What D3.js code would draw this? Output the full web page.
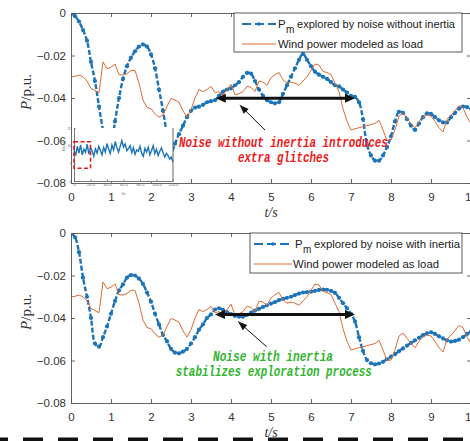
<!DOCTYPE html>
<html>
<head>
<meta charset="utf-8">
<script src="https://cdn.jsdelivr.net/npm/d3@7"></script>
<style>
  body { margin: 0; background: #fff; }
  text { font-family: Arial, "Liberation Sans", sans-serif; }
</style>
</head>
<body>
<div id="vis"></div>
<script>
// sample step of the time series (s)
const step = 0.1;

// P_m explored by noise without inertia (top panel)
const pmNoInertia = [0, -0.0015, -0.004, -0.008, -0.013, -0.023, -0.032, -0.044, -0.055, -0.063,
  -0.062, -0.051, -0.040, -0.031, -0.025, -0.021, -0.018, -0.0158, -0.0148, -0.0158,
  -0.0195, -0.026, -0.036, -0.046, -0.057, -0.066, -0.0615, -0.057, -0.053, -0.049,
  -0.046, -0.0445, -0.0441, -0.0432, -0.042, -0.0415, -0.041, -0.039, -0.037, -0.036,
  -0.0355, -0.034, -0.0325, -0.030, -0.0282, -0.0285, -0.032, -0.036, -0.039, -0.041,
  -0.042, -0.0425, -0.042, -0.038, -0.034, -0.030, -0.026, -0.022, -0.0192, -0.022,
  -0.025, -0.0276, -0.029, -0.030, -0.031, -0.0325, -0.034, -0.0345, -0.036, -0.0375,
  -0.039, -0.0395, -0.042, -0.050, -0.062, -0.067, -0.0695, -0.0695, -0.067, -0.063,
  -0.058, -0.051, -0.0465, -0.047, -0.050, -0.053, -0.055, -0.052, -0.049, -0.0472,
  -0.0475, -0.049, -0.0505, -0.0515, -0.0515, -0.049, -0.047, -0.045, -0.044, -0.0443, -0.045];

// P_m explored by noise with inertia (bottom panel)
const pmInertia = [0, -0.002, -0.009, -0.021, -0.030, -0.040, -0.052, -0.0535, -0.049, -0.044,
  -0.038, -0.032, -0.027, -0.0242, -0.021, -0.0198, -0.020, -0.0215, -0.024, -0.028,
  -0.0323, -0.038, -0.043, -0.048, -0.051, -0.0545, -0.0563, -0.0566, -0.0558, -0.0545,
  -0.052, -0.049, -0.0455, -0.043, -0.040, -0.0383, -0.036, -0.0354, -0.0362, -0.0372,
  -0.0382, -0.039, -0.0394, -0.0394, -0.0385, -0.0375, -0.0365, -0.0357, -0.0348, -0.034,
  -0.0332, -0.0325, -0.0316, -0.031, -0.0305, -0.030, -0.0292, -0.0285, -0.028, -0.0278,
  -0.0276, -0.0272, -0.0268, -0.0266, -0.0267, -0.0272, -0.0282, -0.0305, -0.033, -0.0355,
  -0.038, -0.0417, -0.049, -0.0555, -0.0598, -0.0613, -0.0618, -0.0614, -0.0606, -0.0594,
  -0.0582, -0.057, -0.0556, -0.0543, -0.053, -0.0517, -0.0505, -0.0493, -0.048, -0.0472,
  -0.0467, -0.0475, -0.0486, -0.0496, -0.0505, -0.0511, -0.0508, -0.0502, -0.049, -0.0475, -0.0464];

// wind power modeled as load (both panels)
const windLoad = [-0.030, -0.0298, -0.0292, -0.030, -0.032, -0.0355, -0.0365, -0.0375, -0.023, -0.0262,
  -0.0255, -0.024, -0.029, -0.0292, -0.0285, -0.027, -0.027, -0.033, -0.041, -0.0445,
  -0.045, -0.0475, -0.049, -0.048, -0.044, -0.0402, -0.041, -0.042, -0.046, -0.049,
  -0.0455, -0.040, -0.036, -0.037, -0.036, -0.0345, -0.0375, -0.037, -0.0385, -0.036,
  -0.0335, -0.0385, -0.038, -0.037, -0.0345, -0.035, -0.037, -0.032, -0.0325, -0.034,
  -0.0305, -0.029, -0.028, -0.0315, -0.033, -0.0325, -0.033, -0.034, -0.032, -0.030,
  -0.027, -0.024, -0.0245, -0.0275, -0.028, -0.029, -0.033, -0.037, -0.045, -0.051,
  -0.055, -0.0545, -0.054, -0.0535, -0.053, -0.0525, -0.052, -0.0505, -0.055, -0.060,
  -0.0598, -0.055, -0.0485, -0.047, -0.0495, -0.052, -0.054, -0.051, -0.049, -0.048,
  -0.0485, -0.051, -0.054, -0.056, -0.050, -0.048, -0.046, -0.0435, -0.0445, -0.049, -0.052];

// inset: raw exploration noise, one value every 2 units
const noiseStep = 2;
const noiseInset = [8.8, 7.2, 9.8, 7.9, 10.2, 7.4, 9.0, 8.1, 10.4, 7.6, 9.4, 8.5, 7.0, 9.1, 7.9, 9.8,
  8.6, 7.4, 9.5, 8.2, 10.6, 9.0, 7.8, 10.2, 8.8, 11.2, 9.4, 8.2, 9.8, 11.4, 9.6, 10.5, 8.6, 9.2,
  10.0, 8.0, 9.4, 7.6, 8.8, 8.4, 9.8, 7.8, 7.0, 9.2, 8.2, 9.6, 7.4, 8.6, 10.0, 7.8, 9.0, 7.2,
  8.4, 9.4, 8.0, 6.8, 7.8, 7.2, 6.2, 6.8, 5.4];

const xTicks = [0, 1, 2, 3, 4, 5, 6, 7, 8, 9, 10];
const yTicks = [0, -0.02, -0.04, -0.06, -0.08];
const insetXTicks = [0, 20, 40, 60, 80, 100, 120];
const insetYTicks = [0, 5, 10, 15];

const blue = '#1b74ba', orange = '#e06a35', axisColor = '#555';

let svg = d3.select('#vis')
  .append('svg')
  .attr('width', 470)
  .attr('height', 441)
  .style('background-color', '#fff');

let x = d3.scaleLinear().domain([0, 10]).range([71, 471]);

let panels = [
  { top: 13, bottom: 183, pm: pmNoInertia, id: 'a',
    legend: { x: 234, y: 13, w: 228, h: 39, sx: 242, ex: 276, tx: 278, label: 'explored by noise without inertia', len1: 158, len2: 145 },
    arrow: [3.62, 7.1, -0.0401], pointer: [[4.85, -0.0551], [4.22, -0.0433]],
    note: ['Noise without inertia introduces', 'extra glitches'], noteColor: '#f01818',
    noteAt: [[5.31, -0.0631, 209], [5.31, -0.0701, 91]] },
  { top: 233, bottom: 403, pm: pmInertia, id: 'b',
    legend: { x: 250, y: 233, w: 212, h: 40, sx: 254, ex: 292, tx: 295, label: 'explored by noise with inertia', len1: 146, len2: 146 },
    arrow: [3.6, 7.1, -0.0383], pointer: [[4.89, -0.0535], [4.18, -0.0417]],
    note: ['Noise with inertia', 'stabilizes exploration process'], noteColor: '#2fb52f',
    noteAt: [[5.05, -0.0602, 120], [5.07, -0.0673, 196]] }
];

// simple filled triangle head pointing from (x0,y0) to tip (x1,y1)
function head(g, x0, y0, x1, y1, len, half) {
  let a = Math.atan2(y1 - y0, x1 - x0);
  let bx = x1 - len * Math.cos(a), by = y1 - len * Math.sin(a);
  let px = -Math.sin(a) * half, py = Math.cos(a) * half;
  g.append('path')
    .attr('d', `M${x1},${y1}L${bx + px},${by + py}L${bx - px},${by - py}Z`)
    .attr('fill', '#111');
}

panels.forEach(p => {
  let y = d3.scaleLinear().domain([-0.08, 0]).range([p.bottom, p.top]);
  let g = svg.append('g');

  g.append('clipPath').attr('id', 'clip-' + p.id)
    .append('rect').attr('x', 71).attr('y', p.top).attr('width', 400).attr('height', p.bottom - p.top);

  let plot = g.append('g').attr('clip-path', `url(#clip-${p.id})`);
  let line = d3.line().x((d, i) => x(i * step)).y(d => y(d));

  // blue: dashed line with point markers
  plot.append('path')
    .datum(p.pm)
    .attr('d', line.curve(d3.curveCatmullRom))
    .attr('fill', 'none')
    .attr('stroke', blue)
    .attr('stroke-width', 2.4)
    .attr('stroke-dasharray', '5,2');
  plot.selectAll('circle.pm')
    .data(p.pm)
    .join('circle')
    .attr('class', 'pm')
    .attr('cx', (d, i) => x(i * step))
    .attr('cy', d => y(d))
    .attr('r', 2.1)
    .attr('fill', blue);

  // orange wind power
  plot.append('path')
    .datum(windLoad)
    .attr('d', d3.line().x((d, i) => x(i * step)).y(d => y(d)))
    .attr('fill', 'none')
    .attr('stroke', orange)
    .attr('stroke-width', 1);

  // axes (ticks inside, box)
  let fmt = d => d === 0 ? '0' : d3.format('.2f')(d);
  g.append('g').attr('transform', `translate(0,${p.bottom})`)
    .call(d3.axisBottom(x).tickValues(xTicks).tickSize(-4).tickSizeOuter(0).tickPadding(10).tickFormat(d3.format('d')));
  g.append('g').attr('transform', `translate(0,${p.top})`)
    .call(d3.axisTop(x).tickValues(xTicks).tickSize(-4).tickSizeOuter(0).tickFormat(''));
  g.append('g').attr('transform', 'translate(71,0)')
    .call(d3.axisLeft(y).tickValues(yTicks).tickSize(-4).tickSizeOuter(0).tickPadding(5).tickFormat(fmt));
  g.append('g').attr('transform', 'translate(471,0)')
    .call(d3.axisRight(y).tickValues(yTicks).tickSize(-4).tickSizeOuter(0).tickFormat(''));
  g.selectAll('.domain, .tick line').attr('stroke', axisColor).attr('stroke-width', 0.9);
  g.selectAll('.tick text').attr('fill', '#333').attr('font-size', 11.5)
    .attr('font-family', 'Arial, "Liberation Sans", sans-serif');

  // axis titles
  let yl = g.append('text')
    .attr('transform', `translate(31,${(p.top + p.bottom) / 2 - 6}) rotate(-90)`)
    .attr('text-anchor', 'middle')
    .style('font-family', '"Liberation Serif", serif')
    .attr('font-size', 15)
    .attr('fill', '#333');
  yl.append('tspan').attr('font-style', 'italic').text('P');
  yl.append('tspan').text('/p.u.');
  g.append('text')
    .attr('x', x(5)).attr('y', p.bottom + 34)
    .attr('text-anchor', 'middle')
    .style('font-family', '"Liberation Serif", serif')
    .attr('font-style', 'italic')
    .attr('font-size', 14)
    .attr('fill', '#333')
    .text('t/s');

  p.y = y;
});

// inset of the raw noise in the top panel
let xIn = d3.scaleLinear().domain([0, 120]).range([74, 173]);
let yIn = d3.scaleLinear().domain([0, 15]).range([181, 128]);
let inset = svg.append('g');
inset.append('rect').attr('x', 72).attr('y', 128).attr('width', 101).attr('height', 54).attr('fill', '#fff');
inset.append('path')
  .datum(noiseInset)
  .attr('d', d3.line().x((d, i) => xIn(i * noiseStep)).y(d => yIn(d)))
  .attr('fill', 'none').attr('stroke', blue).attr('stroke-width', 1.4);
inset.append('g').attr('transform', 'translate(0,181)')
  .call(d3.axisBottom(xIn).tickValues(insetXTicks).tickSize(-1.5).tickSizeOuter(0).tickPadding(2)
    .tickFormat(d => d === 0 ? '0' : d3.format('.1f')(d)));
inset.append('g').attr('transform', 'translate(74,0)')
  .call(d3.axisLeft(yIn).tickValues(insetYTicks).tickSize(-1.5).tickSizeOuter(0).tickPadding(2));
inset.append('line').attr('x1', 173).attr('x2', 173).attr('y1', 128).attr('y2', 181)
  .attr('stroke', axisColor).attr('stroke-width', 0.9);
inset.selectAll('.domain, .tick line').attr('stroke', axisColor).attr('stroke-width', 0.8);
inset.selectAll('.tick text').attr('font-size', 4).attr('fill', '#666');
inset.append('text').attr('x', xIn(60)).attr('y', 195).attr('text-anchor', 'middle')
  .attr('font-size', 4).attr('fill', '#666').text('t/s');
inset.append('text').attr('transform', 'translate(65,146) rotate(-90)').attr('text-anchor', 'middle')
  .attr('font-size', 4).attr('fill', '#666').text('Noise');
inset.append('rect')
  .attr('x', xIn(0)).attr('y', yIn(11.1))
  .attr('width', xIn(20) - xIn(0)).attr('height', yIn(3.6) - yIn(11.1))
  .attr('fill', 'none').attr('stroke', '#e8141c').attr('stroke-width', 1.6).attr('stroke-dasharray', '4,2.5');

// annotations + legends
panels.forEach(p => {
  let y = p.y, g = svg.append('g');

  // double-headed arrow
  let [a0, a1, av] = p.arrow;
  g.append('line')
    .attr('x1', x(a0) + 8).attr('x2', x(a1) - 8)
    .attr('y1', y(av)).attr('y2', y(av))
    .attr('stroke', '#111').attr('stroke-width', 3);
  head(g, x(a1) - 10, y(av), x(a1), y(av), 10, 4.5);
  head(g, x(a0) + 10, y(av), x(a0), y(av), 10, 4.5);

  // thin pointer
  let [[s0, v0], [s1, v1]] = p.pointer;
  g.append('line')
    .attr('x1', x(s0)).attr('y1', y(v0)).attr('x2', x(s1)).attr('y2', y(v1))
    .attr('stroke', '#111').attr('stroke-width', 1);
  head(g, x(s0), y(v0), x(s1), y(v1), 9, 3.5);

  // note text
  p.note.forEach((t, i) => {
    let [nt, nv, len] = p.noteAt[i];
    g.append('text')
      .attr('x', x(nt)).attr('y', y(nv))
      .attr('text-anchor', 'middle')
      .style('font-family', '"Liberation Mono", "DejaVu Sans Mono", monospace')
      .attr('font-weight', 'bold').attr('font-style', 'italic')
      .attr('font-size', 14)
      .attr('textLength', len).attr('lengthAdjust', 'spacingAndGlyphs')
      .attr('fill', p.noteColor)
      .text(t);
  });

  // legend
  let L = p.legend;
  let lg = svg.append('g');
  lg.append('rect').attr('x', L.x).attr('y', L.y).attr('width', L.w).attr('height', L.h)
    .attr('fill', '#fff').attr('stroke', '#333').attr('stroke-width', 0.8);
  let r1 = L.y + 11, r2 = L.y + 31;
  lg.append('line').attr('x1', L.sx).attr('x2', L.ex).attr('y1', r1).attr('y2', r1)
    .attr('stroke', blue).attr('stroke-width', 2.2).attr('stroke-dasharray', '9,4');
  lg.append('circle').attr('cx', (L.sx + L.ex) / 2).attr('cy', r1).attr('r', 1.8).attr('fill', blue);
  lg.append('line').attr('x1', L.sx).attr('x2', L.ex).attr('y1', r2).attr('y2', r2)
    .attr('stroke', orange).attr('stroke-width', 1);
  lg.append('text').attr('x', L.tx).attr('y', r1 + 4).attr('font-size', 11.5).attr('fill', '#222').text('P');
  lg.append('text').attr('x', L.tx + 8).attr('y', r1 + 9).attr('font-size', 10).attr('fill', '#222').text('m');
  lg.append('text').attr('x', L.tx + 19).attr('y', r1 + 4).attr('font-size', 11.5).attr('fill', '#222')
    .attr('textLength', L.len1).attr('lengthAdjust', 'spacingAndGlyphs').text(L.label);
  lg.append('text').attr('x', L.tx - (p.id === 'b' ? 2 : 0)).attr('y', r2 + 4).attr('font-size', 11.5).attr('fill', '#222')
    .attr('textLength', L.len2).attr('lengthAdjust', 'spacingAndGlyphs').text('Wind power modeled as load');
});

// dashed separator at the bottom
svg.append('line')
  .attr('x1', 0).attr('x2', 470).attr('y1', 440).attr('y2', 440)
  .attr('stroke', '#111').attr('stroke-width', 5)
  .attr('stroke-dasharray', '20,15').attr('stroke-dashoffset', 12);
</script>
</body>
</html>
